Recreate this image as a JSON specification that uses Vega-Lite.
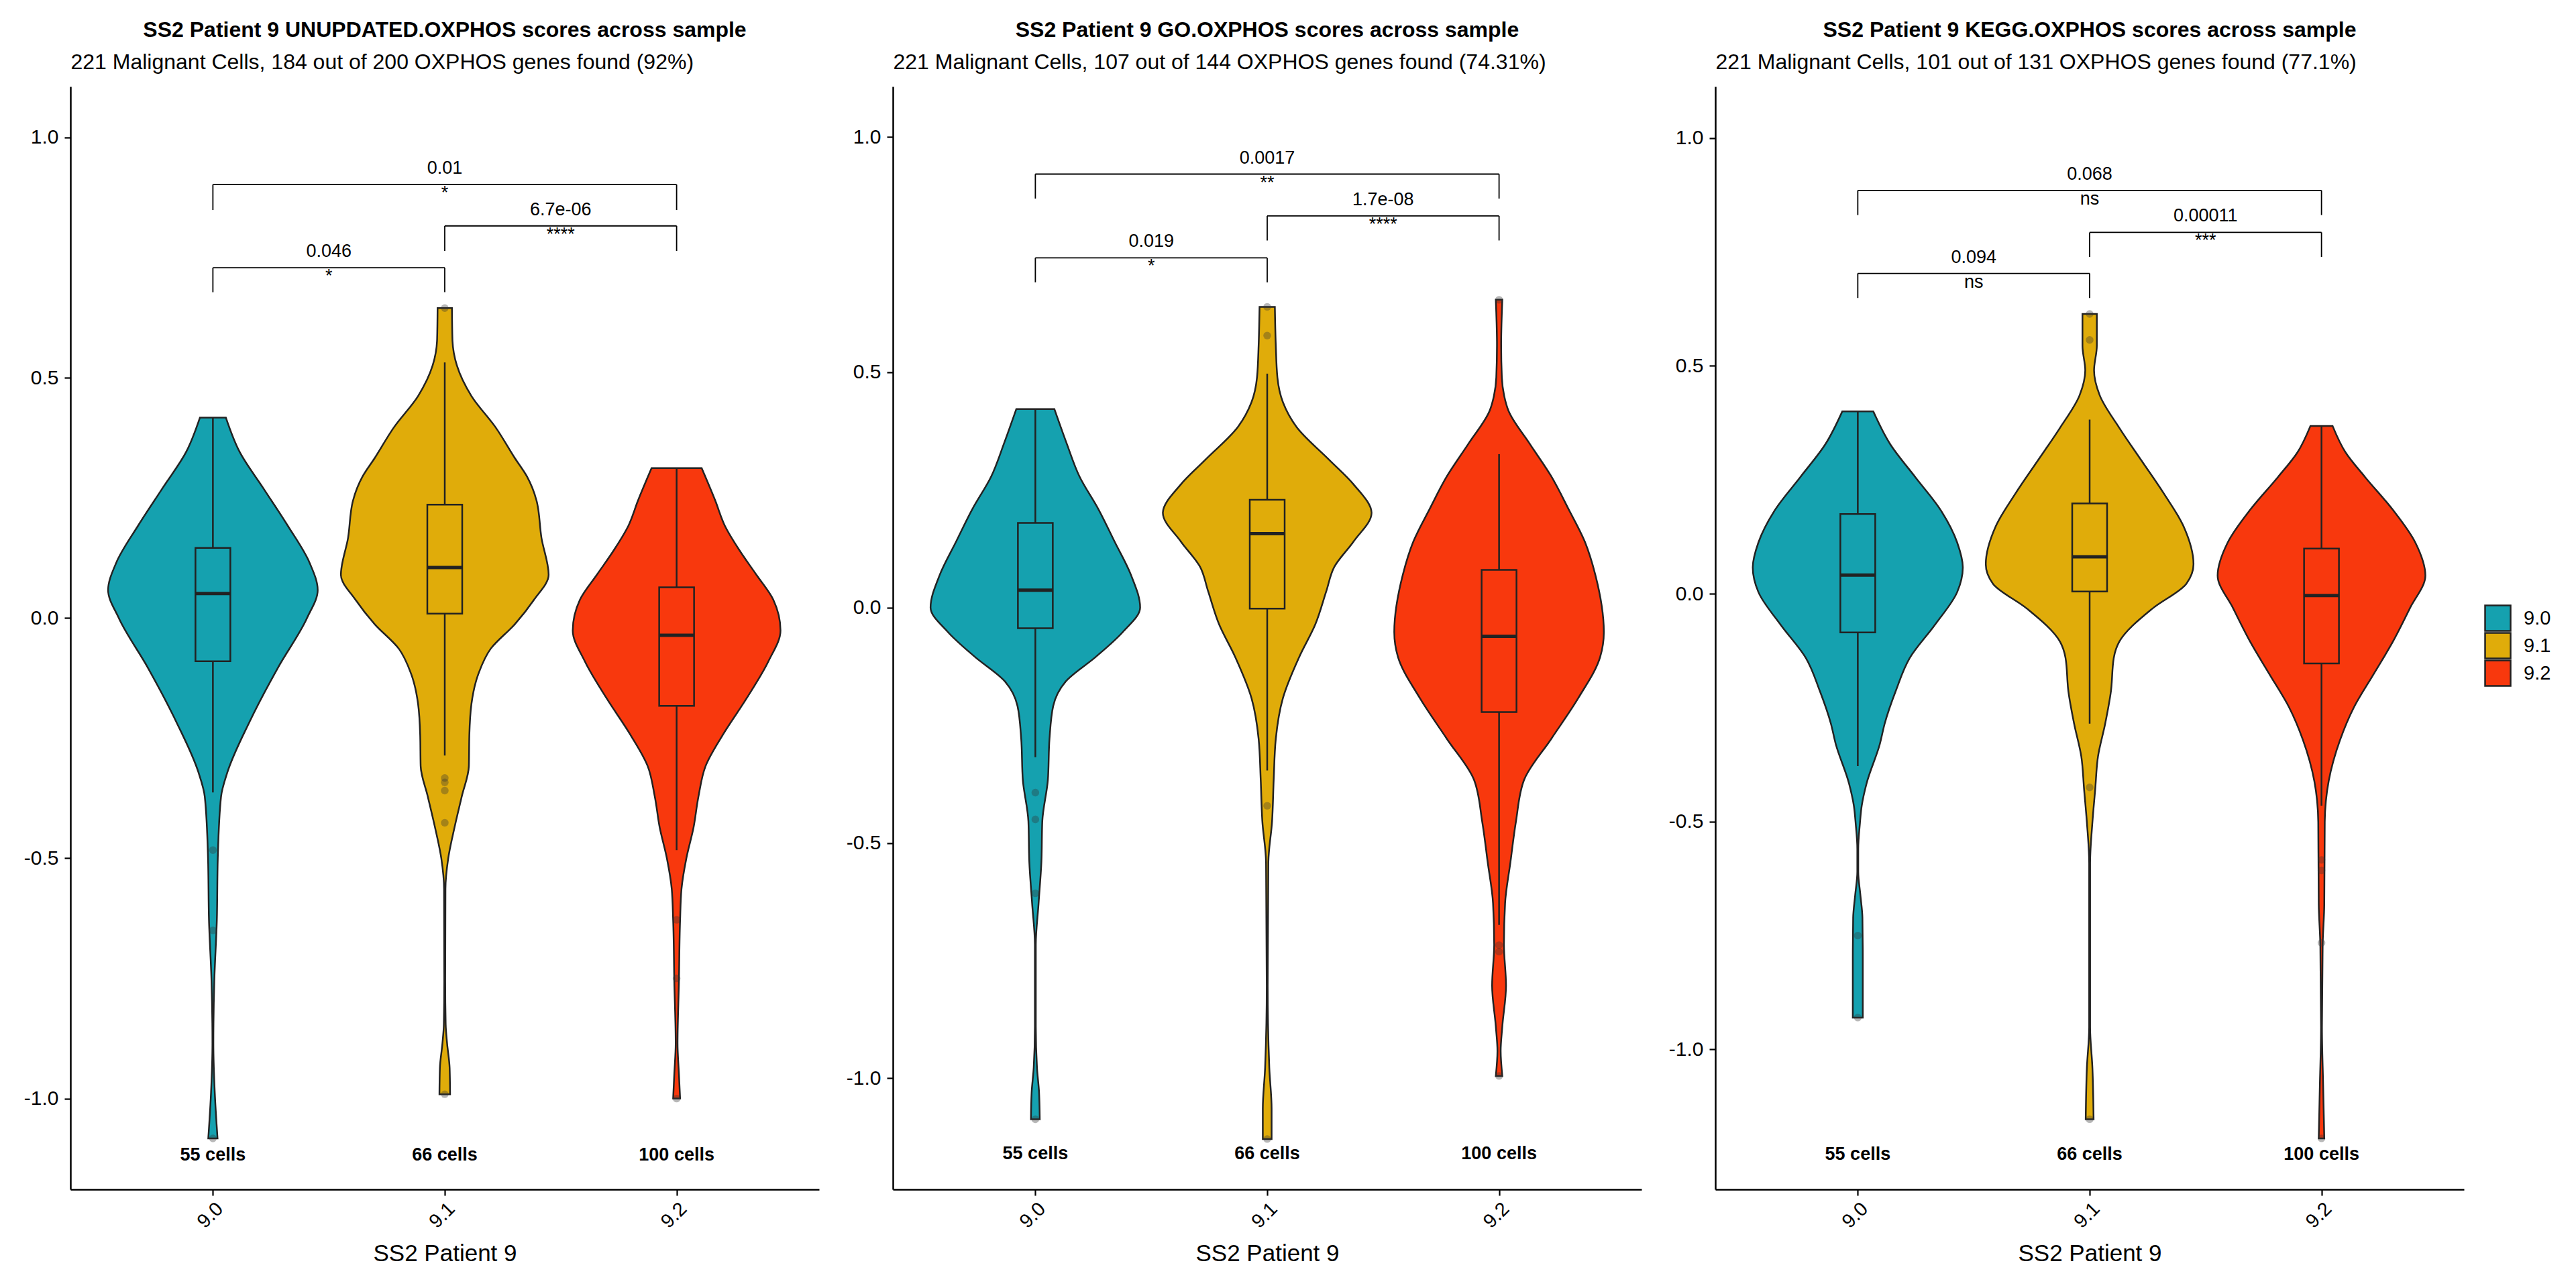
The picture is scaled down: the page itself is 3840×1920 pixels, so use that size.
{
  "$schema": "https://vega.github.io/schema/vega-lite/v6.json",
  "background": "white",
  "autosize": {"type": "pad"},
  "padding": {"left": 35, "top": 29, "right": 0, "bottom": 0},
  "bounds": "flush",
  "spacing": 110,
  "config": {
    "font": "Liberation Sans",
    "view": {"stroke": null},
    "axis": {"grid": false, "domainColor": "black", "tickColor": "black", "labelColor": "black", "titleColor": "black", "labelFont": "Liberation Sans", "titleFont": "Liberation Sans"},
    "title": {"font": "Liberation Sans", "fontSize": 32, "fontWeight": "bold", "color": "black", "anchor": "middle", "frame": "group", "baseline": "alphabetic", "offset": 14},
    "text": {"font": "Liberation Sans", "color": "black"}
  },
  "datasets": {
    "violin": [
      {"panel": "U", "sample": "9.0", "score": 0.417, "half": 0.056},
      {"panel": "U", "sample": "9.0", "score": 0.346, "half": 0.115},
      {"panel": "U", "sample": "9.0", "score": 0.269, "half": 0.219},
      {"panel": "U", "sample": "9.0", "score": 0.192, "half": 0.323},
      {"panel": "U", "sample": "9.0", "score": 0.115, "half": 0.417},
      {"panel": "U", "sample": "9.0", "score": 0.058, "half": 0.452},
      {"panel": "U", "sample": "9.0", "score": 0.0, "half": 0.406},
      {"panel": "U", "sample": "9.0", "score": -0.103, "half": 0.281},
      {"panel": "U", "sample": "9.0", "score": -0.218, "half": 0.156},
      {"panel": "U", "sample": "9.0", "score": -0.321, "half": 0.0625},
      {"panel": "U", "sample": "9.0", "score": -0.372, "half": 0.035},
      {"panel": "U", "sample": "9.0", "score": -0.5, "half": 0.021},
      {"panel": "U", "sample": "9.0", "score": -0.628, "half": 0.017},
      {"panel": "U", "sample": "9.0", "score": -0.756, "half": 0.006},
      {"panel": "U", "sample": "9.0", "score": -0.885, "half": 0.002},
      {"panel": "U", "sample": "9.0", "score": -0.987, "half": 0.008},
      {"panel": "U", "sample": "9.0", "score": -1.083, "half": 0.02},
      {"panel": "U", "sample": "9.1", "score": 0.645, "half": 0.031},
      {"panel": "U", "sample": "9.1", "score": 0.58, "half": 0.033},
      {"panel": "U", "sample": "9.1", "score": 0.526, "half": 0.052},
      {"panel": "U", "sample": "9.1", "score": 0.462, "half": 0.115},
      {"panel": "U", "sample": "9.1", "score": 0.397, "half": 0.219},
      {"panel": "U", "sample": "9.1", "score": 0.333, "half": 0.302},
      {"panel": "U", "sample": "9.1", "score": 0.295, "half": 0.354},
      {"panel": "U", "sample": "9.1", "score": 0.244, "half": 0.396},
      {"panel": "U", "sample": "9.1", "score": 0.167, "half": 0.417},
      {"panel": "U", "sample": "9.1", "score": 0.09, "half": 0.448},
      {"panel": "U", "sample": "9.1", "score": 0.038, "half": 0.385},
      {"panel": "U", "sample": "9.1", "score": -0.013, "half": 0.302},
      {"panel": "U", "sample": "9.1", "score": -0.064, "half": 0.198},
      {"panel": "U", "sample": "9.1", "score": -0.115, "half": 0.146},
      {"panel": "U", "sample": "9.1", "score": -0.179, "half": 0.115},
      {"panel": "U", "sample": "9.1", "score": -0.244, "half": 0.106},
      {"panel": "U", "sample": "9.1", "score": -0.308, "half": 0.104},
      {"panel": "U", "sample": "9.1", "score": -0.372, "half": 0.073},
      {"panel": "U", "sample": "9.1", "score": -0.436, "half": 0.042},
      {"panel": "U", "sample": "9.1", "score": -0.5, "half": 0.015},
      {"panel": "U", "sample": "9.1", "score": -0.564, "half": 0.003},
      {"panel": "U", "sample": "9.1", "score": -0.756, "half": 0.002},
      {"panel": "U", "sample": "9.1", "score": -0.846, "half": 0.004},
      {"panel": "U", "sample": "9.1", "score": -0.885, "half": 0.01},
      {"panel": "U", "sample": "9.1", "score": -0.936, "half": 0.021},
      {"panel": "U", "sample": "9.1", "score": -0.991, "half": 0.023},
      {"panel": "U", "sample": "9.2", "score": 0.312, "half": 0.108},
      {"panel": "U", "sample": "9.2", "score": 0.244, "half": 0.167},
      {"panel": "U", "sample": "9.2", "score": 0.192, "half": 0.208},
      {"panel": "U", "sample": "9.2", "score": 0.141, "half": 0.271},
      {"panel": "U", "sample": "9.2", "score": 0.09, "half": 0.344},
      {"panel": "U", "sample": "9.2", "score": 0.038, "half": 0.417},
      {"panel": "U", "sample": "9.2", "score": -0.026, "half": 0.448},
      {"panel": "U", "sample": "9.2", "score": -0.09, "half": 0.396},
      {"panel": "U", "sample": "9.2", "score": -0.167, "half": 0.302},
      {"panel": "U", "sample": "9.2", "score": -0.244, "half": 0.198},
      {"panel": "U", "sample": "9.2", "score": -0.308, "half": 0.125},
      {"panel": "U", "sample": "9.2", "score": -0.372, "half": 0.094},
      {"panel": "U", "sample": "9.2", "score": -0.436, "half": 0.073},
      {"panel": "U", "sample": "9.2", "score": -0.5, "half": 0.042},
      {"panel": "U", "sample": "9.2", "score": -0.564, "half": 0.021},
      {"panel": "U", "sample": "9.2", "score": -0.628, "half": 0.015},
      {"panel": "U", "sample": "9.2", "score": -0.756, "half": 0.01},
      {"panel": "U", "sample": "9.2", "score": -0.885, "half": 0.004},
      {"panel": "U", "sample": "9.2", "score": -0.949, "half": 0.01},
      {"panel": "U", "sample": "9.2", "score": -1.0, "half": 0.015},
      {"panel": "G", "sample": "9.0", "score": 0.422, "half": 0.082},
      {"panel": "G", "sample": "9.0", "score": 0.349, "half": 0.135},
      {"panel": "G", "sample": "9.0", "score": 0.279, "half": 0.19},
      {"panel": "G", "sample": "9.0", "score": 0.209, "half": 0.272},
      {"panel": "G", "sample": "9.0", "score": 0.14, "half": 0.342},
      {"panel": "G", "sample": "9.0", "score": 0.07, "half": 0.412},
      {"panel": "G", "sample": "9.0", "score": 0.0, "half": 0.452},
      {"panel": "G", "sample": "9.0", "score": -0.052, "half": 0.377},
      {"panel": "G", "sample": "9.0", "score": -0.105, "half": 0.26},
      {"panel": "G", "sample": "9.0", "score": -0.157, "half": 0.131},
      {"panel": "G", "sample": "9.0", "score": -0.209, "half": 0.077},
      {"panel": "G", "sample": "9.0", "score": -0.279, "half": 0.061},
      {"panel": "G", "sample": "9.0", "score": -0.366, "half": 0.054},
      {"panel": "G", "sample": "9.0", "score": -0.454, "half": 0.03},
      {"panel": "G", "sample": "9.0", "score": -0.541, "half": 0.026},
      {"panel": "G", "sample": "9.0", "score": -0.628, "half": 0.014},
      {"panel": "G", "sample": "9.0", "score": -0.716, "half": 0.002},
      {"panel": "G", "sample": "9.0", "score": -0.89, "half": 0.002},
      {"panel": "G", "sample": "9.0", "score": -0.977, "half": 0.007},
      {"panel": "G", "sample": "9.0", "score": -1.03, "half": 0.016},
      {"panel": "G", "sample": "9.0", "score": -1.087, "half": 0.019},
      {"panel": "G", "sample": "9.1", "score": 0.639, "half": 0.033},
      {"panel": "G", "sample": "9.1", "score": 0.558, "half": 0.037},
      {"panel": "G", "sample": "9.1", "score": 0.489, "half": 0.044},
      {"panel": "G", "sample": "9.1", "score": 0.436, "half": 0.068},
      {"panel": "G", "sample": "9.1", "score": 0.384, "half": 0.126},
      {"panel": "G", "sample": "9.1", "score": 0.314, "half": 0.267},
      {"panel": "G", "sample": "9.1", "score": 0.262, "half": 0.372},
      {"panel": "G", "sample": "9.1", "score": 0.201, "half": 0.45},
      {"panel": "G", "sample": "9.1", "score": 0.14, "half": 0.372},
      {"panel": "G", "sample": "9.1", "score": 0.087, "half": 0.29},
      {"panel": "G", "sample": "9.1", "score": 0.035, "half": 0.255},
      {"panel": "G", "sample": "9.1", "score": -0.035, "half": 0.208},
      {"panel": "G", "sample": "9.1", "score": -0.105, "half": 0.138},
      {"panel": "G", "sample": "9.1", "score": -0.192, "half": 0.068},
      {"panel": "G", "sample": "9.1", "score": -0.279, "half": 0.037},
      {"panel": "G", "sample": "9.1", "score": -0.366, "half": 0.028},
      {"panel": "G", "sample": "9.1", "score": -0.454, "half": 0.021},
      {"panel": "G", "sample": "9.1", "score": -0.541, "half": 0.005},
      {"panel": "G", "sample": "9.1", "score": -0.803, "half": 0.002},
      {"panel": "G", "sample": "9.1", "score": -0.977, "half": 0.009},
      {"panel": "G", "sample": "9.1", "score": -1.065, "half": 0.019},
      {"panel": "G", "sample": "9.1", "score": -1.129, "half": 0.019},
      {"panel": "G", "sample": "9.2", "score": 0.654, "half": 0.014},
      {"panel": "G", "sample": "9.2", "score": 0.558, "half": 0.009},
      {"panel": "G", "sample": "9.2", "score": 0.489, "half": 0.012},
      {"panel": "G", "sample": "9.2", "score": 0.45, "half": 0.022},
      {"panel": "G", "sample": "9.2", "score": 0.419, "half": 0.04},
      {"panel": "G", "sample": "9.2", "score": 0.349, "half": 0.131},
      {"panel": "G", "sample": "9.2", "score": 0.279, "half": 0.225},
      {"panel": "G", "sample": "9.2", "score": 0.209, "half": 0.3},
      {"panel": "G", "sample": "9.2", "score": 0.14, "half": 0.37},
      {"panel": "G", "sample": "9.2", "score": 0.07, "half": 0.415},
      {"panel": "G", "sample": "9.2", "score": -0.052, "half": 0.452},
      {"panel": "G", "sample": "9.2", "score": -0.105, "half": 0.436},
      {"panel": "G", "sample": "9.2", "score": -0.192, "half": 0.342},
      {"panel": "G", "sample": "9.2", "score": -0.279, "half": 0.225},
      {"panel": "G", "sample": "9.2", "score": -0.366, "half": 0.108},
      {"panel": "G", "sample": "9.2", "score": -0.454, "half": 0.073},
      {"panel": "G", "sample": "9.2", "score": -0.541, "half": 0.049},
      {"panel": "G", "sample": "9.2", "score": -0.628, "half": 0.026},
      {"panel": "G", "sample": "9.2", "score": -0.716, "half": 0.021},
      {"panel": "G", "sample": "9.2", "score": -0.803, "half": 0.03},
      {"panel": "G", "sample": "9.2", "score": -0.89, "half": 0.014},
      {"panel": "G", "sample": "9.2", "score": -0.942, "half": 0.007},
      {"panel": "G", "sample": "9.2", "score": -0.995, "half": 0.014},
      {"panel": "K", "sample": "9.0", "score": 0.4, "half": 0.067},
      {"panel": "K", "sample": "9.0", "score": 0.328, "half": 0.14},
      {"panel": "K", "sample": "9.0", "score": 0.256, "half": 0.248},
      {"panel": "K", "sample": "9.0", "score": 0.184, "half": 0.357},
      {"panel": "K", "sample": "9.0", "score": 0.112, "half": 0.429},
      {"panel": "K", "sample": "9.0", "score": 0.058, "half": 0.453},
      {"panel": "K", "sample": "9.0", "score": 0.004, "half": 0.429},
      {"panel": "K", "sample": "9.0", "score": -0.068, "half": 0.333},
      {"panel": "K", "sample": "9.0", "score": -0.141, "half": 0.224},
      {"panel": "K", "sample": "9.0", "score": -0.213, "half": 0.164},
      {"panel": "K", "sample": "9.0", "score": -0.285, "half": 0.116},
      {"panel": "K", "sample": "9.0", "score": -0.33, "half": 0.095},
      {"panel": "K", "sample": "9.0", "score": -0.416, "half": 0.038},
      {"panel": "K", "sample": "9.0", "score": -0.465, "half": 0.017},
      {"panel": "K", "sample": "9.0", "score": -0.505, "half": 0.009},
      {"panel": "K", "sample": "9.0", "score": -0.56, "half": 0.002},
      {"panel": "K", "sample": "9.0", "score": -0.61, "half": 0.002},
      {"panel": "K", "sample": "9.0", "score": -0.66, "half": 0.011},
      {"panel": "K", "sample": "9.0", "score": -0.711, "half": 0.02},
      {"panel": "K", "sample": "9.0", "score": -0.8, "half": 0.0215},
      {"panel": "K", "sample": "9.0", "score": -0.93, "half": 0.0215},
      {"panel": "K", "sample": "9.1", "score": 0.614, "half": 0.031},
      {"panel": "K", "sample": "9.1", "score": 0.544, "half": 0.031},
      {"panel": "K", "sample": "9.1", "score": 0.49, "half": 0.019},
      {"panel": "K", "sample": "9.1", "score": 0.436, "half": 0.043},
      {"panel": "K", "sample": "9.1", "score": 0.364, "half": 0.128},
      {"panel": "K", "sample": "9.1", "score": 0.292, "half": 0.224},
      {"panel": "K", "sample": "9.1", "score": 0.22, "half": 0.32},
      {"panel": "K", "sample": "9.1", "score": 0.148, "half": 0.405},
      {"panel": "K", "sample": "9.1", "score": 0.065, "half": 0.448},
      {"panel": "K", "sample": "9.1", "score": 0.022, "half": 0.417},
      {"panel": "K", "sample": "9.1", "score": -0.032, "half": 0.272},
      {"panel": "K", "sample": "9.1", "score": -0.105, "half": 0.128},
      {"panel": "K", "sample": "9.1", "score": -0.141, "half": 0.104},
      {"panel": "K", "sample": "9.1", "score": -0.213, "half": 0.092},
      {"panel": "K", "sample": "9.1", "score": -0.285, "half": 0.067},
      {"panel": "K", "sample": "9.1", "score": -0.357, "half": 0.036},
      {"panel": "K", "sample": "9.1", "score": -0.429, "half": 0.024},
      {"panel": "K", "sample": "9.1", "score": -0.501, "half": 0.012},
      {"panel": "K", "sample": "9.1", "score": -0.591, "half": 0.002},
      {"panel": "K", "sample": "9.1", "score": -0.951, "half": 0.002},
      {"panel": "K", "sample": "9.1", "score": -1.041, "half": 0.012},
      {"panel": "K", "sample": "9.1", "score": -1.153, "half": 0.017},
      {"panel": "K", "sample": "9.2", "score": 0.368, "half": 0.048},
      {"panel": "K", "sample": "9.2", "score": 0.31, "half": 0.104},
      {"panel": "K", "sample": "9.2", "score": 0.256, "half": 0.188},
      {"panel": "K", "sample": "9.2", "score": 0.184, "half": 0.308},
      {"panel": "K", "sample": "9.2", "score": 0.112, "half": 0.405},
      {"panel": "K", "sample": "9.2", "score": 0.04, "half": 0.448},
      {"panel": "K", "sample": "9.2", "score": -0.032, "half": 0.381},
      {"panel": "K", "sample": "9.2", "score": -0.105, "half": 0.308},
      {"panel": "K", "sample": "9.2", "score": -0.177, "half": 0.224},
      {"panel": "K", "sample": "9.2", "score": -0.249, "half": 0.14},
      {"panel": "K", "sample": "9.2", "score": -0.321, "half": 0.08},
      {"panel": "K", "sample": "9.2", "score": -0.411, "half": 0.031},
      {"panel": "K", "sample": "9.2", "score": -0.501, "half": 0.014},
      {"panel": "K", "sample": "9.2", "score": -0.681, "half": 0.012},
      {"panel": "K", "sample": "9.2", "score": -0.771, "half": 0.005},
      {"panel": "K", "sample": "9.2", "score": -0.951, "half": 0.002},
      {"panel": "K", "sample": "9.2", "score": -1.077, "half": 0.007},
      {"panel": "K", "sample": "9.2", "score": -1.195, "half": 0.012}
    ],
    "box": [
      {"panel": "U", "sample": "9.0", "lower": -0.363, "q1": -0.09, "median": 0.051, "q3": 0.146, "upper": 0.417},
      {"panel": "U", "sample": "9.1", "lower": -0.286, "q1": 0.009, "median": 0.105, "q3": 0.236, "upper": 0.532},
      {"panel": "U", "sample": "9.2", "lower": -0.483, "q1": -0.183, "median": -0.036, "q3": 0.064, "upper": 0.312},
      {"panel": "G", "sample": "9.0", "lower": -0.318, "q1": -0.044, "median": 0.037, "q3": 0.18, "upper": 0.422},
      {"panel": "G", "sample": "9.1", "lower": -0.346, "q1": -0.002, "median": 0.157, "q3": 0.229, "upper": 0.497},
      {"panel": "G", "sample": "9.2", "lower": -0.674, "q1": -0.222, "median": -0.061, "q3": 0.08, "upper": 0.326},
      {"panel": "K", "sample": "9.0", "lower": -0.378, "q1": -0.085, "median": 0.041, "q3": 0.175, "upper": 0.4},
      {"panel": "K", "sample": "9.1", "lower": -0.285, "q1": 0.005, "median": 0.081, "q3": 0.198, "upper": 0.382},
      {"panel": "K", "sample": "9.2", "lower": -0.465, "q1": -0.153, "median": -0.004, "q3": 0.099, "upper": 0.368}
    ],
    "outliers": [
      {"panel": "U", "sample": "9.0", "score": -0.483},
      {"panel": "U", "sample": "9.0", "score": -0.65},
      {"panel": "U", "sample": "9.0", "score": -1.083},
      {"panel": "U", "sample": "9.1", "score": 0.645},
      {"panel": "U", "sample": "9.1", "score": -0.333},
      {"panel": "U", "sample": "9.1", "score": -0.342},
      {"panel": "U", "sample": "9.1", "score": -0.359},
      {"panel": "U", "sample": "9.1", "score": -0.426},
      {"panel": "U", "sample": "9.1", "score": -0.991},
      {"panel": "U", "sample": "9.2", "score": -0.628},
      {"panel": "U", "sample": "9.2", "score": -0.75},
      {"panel": "U", "sample": "9.2", "score": -1.0},
      {"panel": "G", "sample": "9.0", "score": -0.393},
      {"panel": "G", "sample": "9.0", "score": -0.45},
      {"panel": "G", "sample": "9.0", "score": -0.607},
      {"panel": "G", "sample": "9.0", "score": -1.087},
      {"panel": "G", "sample": "9.1", "score": 0.639},
      {"panel": "G", "sample": "9.1", "score": 0.578},
      {"panel": "G", "sample": "9.1", "score": -0.421},
      {"panel": "G", "sample": "9.1", "score": -1.129},
      {"panel": "G", "sample": "9.2", "score": 0.654},
      {"panel": "G", "sample": "9.2", "score": -0.717},
      {"panel": "G", "sample": "9.2", "score": -0.731},
      {"panel": "G", "sample": "9.2", "score": -0.995},
      {"panel": "K", "sample": "9.0", "score": -0.75},
      {"panel": "K", "sample": "9.0", "score": -0.93},
      {"panel": "K", "sample": "9.1", "score": 0.614},
      {"panel": "K", "sample": "9.1", "score": 0.557},
      {"panel": "K", "sample": "9.1", "score": -0.425},
      {"panel": "K", "sample": "9.1", "score": -1.153},
      {"panel": "K", "sample": "9.2", "score": -0.584},
      {"panel": "K", "sample": "9.2", "score": -0.607},
      {"panel": "K", "sample": "9.2", "score": -0.766},
      {"panel": "K", "sample": "9.2", "score": -1.195}
    ],
    "brackets": [
      {"panel": "U", "from": 9.0, "to": 9.2, "y": 0.902, "ytip": 0.849, "p": "0.01", "sig": "*"},
      {"panel": "U", "from": 9.1, "to": 9.2, "y": 0.816, "ytip": 0.764, "p": "6.7e-06", "sig": "****"},
      {"panel": "U", "from": 9.0, "to": 9.1, "y": 0.729, "ytip": 0.678, "p": "0.046", "sig": "*"},
      {"panel": "G", "from": 9.0, "to": 9.2, "y": 0.921, "ytip": 0.869, "p": "0.0017", "sig": "**"},
      {"panel": "G", "from": 9.1, "to": 9.2, "y": 0.832, "ytip": 0.78, "p": "1.7e-08", "sig": "****"},
      {"panel": "G", "from": 9.0, "to": 9.1, "y": 0.743, "ytip": 0.691, "p": "0.019", "sig": "*"},
      {"panel": "K", "from": 9.0, "to": 9.2, "y": 0.885, "ytip": 0.831, "p": "0.068", "sig": "ns"},
      {"panel": "K", "from": 9.1, "to": 9.2, "y": 0.793, "ytip": 0.739, "p": "0.00011", "sig": "***"},
      {"panel": "K", "from": 9.0, "to": 9.1, "y": 0.703, "ytip": 0.649, "p": "0.094", "sig": "ns"}
    ],
    "counts": [
      {"panel": "U", "sample": "9.0", "y": -1.118, "label": "55 cells"},
      {"panel": "U", "sample": "9.1", "y": -1.118, "label": "66 cells"},
      {"panel": "U", "sample": "9.2", "y": -1.118, "label": "100 cells"},
      {"panel": "G", "sample": "9.0", "y": -1.161, "label": "55 cells"},
      {"panel": "G", "sample": "9.1", "y": -1.161, "label": "66 cells"},
      {"panel": "G", "sample": "9.2", "y": -1.161, "label": "100 cells"},
      {"panel": "K", "sample": "9.0", "y": -1.231, "label": "55 cells"},
      {"panel": "K", "sample": "9.1", "y": -1.231, "label": "66 cells"},
      {"panel": "K", "sample": "9.2", "y": -1.231, "label": "100 cells"}
    ]
  },
  "hconcat": [
    {
      "width": 1116,
      "height": 1644,
      "title": {"text": "SS2 Patient 9 UNUPDATED.OXPHOS scores across sample"},
      "resolve": {"axis": {"x": "independent"}},
      "layer": [
        {
          "data": {"name": "violin"},
          "transform": [
            {"filter": "datum.panel === 'U'"},
            {"calculate": "toNumber(datum.sample)", "as": "sv"},
            {"calculate": "datum.sv - datum.half * 0.1", "as": "lo"},
            {"calculate": "datum.sv + datum.half * 0.1", "as": "hi"}
          ],
          "mark": {"type": "area", "orient": "horizontal", "interpolate": "monotone", "stroke": "#222222", "strokeWidth": 2.5, "opacity": 1},
          "encoding": {
            "y": {"field": "score", "type": "quantitative", "scale": {"domain": [-1.189, 1.106], "nice": false, "zero": false},
              "axis": {"values": [-1, -0.5, 0, 0.5, 1], "labelExpr": "datum.value < 0 ? '-' + format(-datum.value, '.1f') : format(datum.value, '.1f')", "labelFontSize": 30, "labelPadding": 9, "tickSize": 9, "tickWidth": 2.2, "domainWidth": 2.5, "title": null}},
            "x": {"field": "lo", "type": "quantitative", "scale": {"domain": [8.94, 9.26], "nice": false, "zero": false},
              "axis": {"orient": "bottom", "values": [9, 9.1, 9.2], "format": ".1f", "labelAngle": -45, "labelAlign": "right", "labelBaseline": "top", "labelFontSize": 29, "labelPadding": 5, "tickSize": 9, "tickWidth": 2.2, "domainWidth": 2.5, "title": "SS2 Patient 9", "titleFontSize": 35, "titleFontWeight": "normal", "titleBaseline": "alphabetic", "titleAlign": "center", "titleX": 558, "titleY": 106}},
            "x2": {"field": "hi"},
            "fill": {"field": "sample", "type": "nominal", "scale": {"domain": ["9.0", "9.1", "9.2"], "range": ["#15A1AF", "#E0AC0A", "#F8380D"]},
              "legend": {"orient": "none", "legendX": 3598, "legendY": 772, "title": null, "symbolType": "square", "symbolSize": 1444, "symbolStrokeColor": "#333333", "symbolStrokeWidth": 2.5, "symbolOpacity": 1, "labelFontSize": 29, "labelOffset": 18, "clipHeight": 41, "rowPadding": 0, "padding": 0}}
          }
        },
        {
          "data": {"name": "box"},
          "transform": [{"filter": "datum.panel === 'U'"}, {"calculate": "toNumber(datum.sample)", "as": "sv"}],
          "mark": {"type": "rule", "stroke": "#222222", "strokeWidth": 2.5},
          "encoding": {
            "x": {"field": "sv", "type": "quantitative", "axis": null},
            "y": {"field": "lower", "type": "quantitative"},
            "y2": {"field": "upper"}
          }
        },
        {
          "data": {"name": "box"},
          "transform": [{"filter": "datum.panel === 'U'"}, {"calculate": "toNumber(datum.sample)", "as": "sv"}],
          "mark": {"type": "bar", "width": 52, "stroke": "#222222", "strokeWidth": 2.5, "opacity": 1},
          "encoding": {
            "x": {"field": "sv", "type": "quantitative", "axis": null},
            "y": {"field": "q1", "type": "quantitative"},
            "y2": {"field": "q3"},
            "fill": {"field": "sample", "type": "nominal"}
          }
        },
        {
          "data": {"name": "box"},
          "transform": [{"filter": "datum.panel === 'U'"}, {"calculate": "toNumber(datum.sample)", "as": "sv"}],
          "mark": {"type": "tick", "orient": "horizontal", "size": 52, "thickness": 5, "color": "#222222", "opacity": 1},
          "encoding": {
            "x": {"field": "sv", "type": "quantitative", "axis": null},
            "y": {"field": "median", "type": "quantitative"}
          }
        },
        {
          "data": {"name": "outliers"},
          "transform": [{"filter": "datum.panel === 'U'"}, {"calculate": "toNumber(datum.sample)", "as": "sv"}],
          "mark": {"type": "circle", "size": 130, "color": "#333333", "opacity": 0.35},
          "encoding": {
            "x": {"field": "sv", "type": "quantitative", "axis": null},
            "y": {"field": "score", "type": "quantitative"}
          }
        },
        {
          "data": {"name": "brackets"},
          "transform": [{"filter": "datum.panel === 'U'"}],
          "mark": {"type": "rule", "color": "black", "strokeWidth": 1.8},
          "encoding": {
            "x": {"field": "from", "type": "quantitative", "axis": null},
            "x2": {"field": "to"},
            "y": {"field": "y", "type": "quantitative"}
          }
        },
        {
          "data": {"name": "brackets"},
          "transform": [{"filter": "datum.panel === 'U'"}],
          "mark": {"type": "rule", "color": "black", "strokeWidth": 1.8},
          "encoding": {
            "x": {"field": "from", "type": "quantitative", "axis": null},
            "y": {"field": "ytip", "type": "quantitative"},
            "y2": {"field": "y"}
          }
        },
        {
          "data": {"name": "brackets"},
          "transform": [{"filter": "datum.panel === 'U'"}],
          "mark": {"type": "rule", "color": "black", "strokeWidth": 1.8},
          "encoding": {
            "x": {"field": "to", "type": "quantitative", "axis": null},
            "y": {"field": "ytip", "type": "quantitative"},
            "y2": {"field": "y"}
          }
        },
        {
          "data": {"name": "brackets"},
          "transform": [{"filter": "datum.panel === 'U'"}, {"calculate": "(datum.from + datum.to) / 2", "as": "mid"}],
          "mark": {"type": "text", "fontSize": 27, "baseline": "alphabetic", "dy": -16},
          "encoding": {
            "x": {"field": "mid", "type": "quantitative", "axis": null},
            "y": {"field": "y", "type": "quantitative"},
            "text": {"field": "p"}
          }
        },
        {
          "data": {"name": "brackets"},
          "transform": [{"filter": "datum.panel === 'U'"}, {"calculate": "(datum.from + datum.to) / 2", "as": "mid"}],
          "mark": {"type": "text", "fontSize": 27, "baseline": "alphabetic", "dy": 21},
          "encoding": {
            "x": {"field": "mid", "type": "quantitative", "axis": null},
            "y": {"field": "y", "type": "quantitative"},
            "text": {"field": "sig"}
          }
        },
        {
          "data": {"name": "counts"},
          "transform": [{"filter": "datum.panel === 'U'"}, {"calculate": "toNumber(datum.sample)", "as": "sv"}],
          "mark": {"type": "text", "fontSize": 27, "fontWeight": "bold", "baseline": "middle"},
          "encoding": {
            "x": {"field": "sv", "type": "quantitative",
              "axis": {"orient": "top", "domain": false, "ticks": false, "labels": false, "grid": false, "title": "221 Malignant Cells, 184 out of 200 OXPHOS genes found (92%)", "titleFontSize": 32, "titleFontWeight": "normal", "titleX": 0, "titleY": -27, "titleAlign": "left", "titleBaseline": "alphabetic"}},
            "y": {"field": "y", "type": "quantitative"},
            "text": {"field": "label"}
          }
        }
      ]
    },
    {
      "width": 1116,
      "height": 1644,
      "title": {"text": "SS2 Patient 9 GO.OXPHOS scores across sample"},
      "resolve": {"axis": {"x": "independent"}},
      "layer": [
        {
          "data": {"name": "violin"},
          "transform": [
            {"filter": "datum.panel === 'G'"},
            {"calculate": "toNumber(datum.sample)", "as": "sv"},
            {"calculate": "datum.sv - datum.half * 0.1", "as": "lo"},
            {"calculate": "datum.sv + datum.half * 0.1", "as": "hi"}
          ],
          "mark": {"type": "area", "orient": "horizontal", "interpolate": "monotone", "stroke": "#222222", "strokeWidth": 2.5, "opacity": 1},
          "encoding": {
            "y": {"field": "score", "type": "quantitative", "scale": {"domain": [-1.236, 1.107], "nice": false, "zero": false},
              "axis": {"values": [-1, -0.5, 0, 0.5, 1], "labelExpr": "datum.value < 0 ? '-' + format(-datum.value, '.1f') : format(datum.value, '.1f')", "labelFontSize": 30, "labelPadding": 9, "tickSize": 9, "tickWidth": 2.2, "domainWidth": 2.5, "title": null}},
            "x": {"field": "lo", "type": "quantitative", "scale": {"domain": [8.94, 9.26], "nice": false, "zero": false},
              "axis": {"orient": "bottom", "values": [9, 9.1, 9.2], "format": ".1f", "labelAngle": -45, "labelAlign": "right", "labelBaseline": "top", "labelFontSize": 29, "labelPadding": 5, "tickSize": 9, "tickWidth": 2.2, "domainWidth": 2.5, "title": "SS2 Patient 9", "titleFontSize": 35, "titleFontWeight": "normal", "titleBaseline": "alphabetic", "titleAlign": "center", "titleX": 558, "titleY": 106}},
            "x2": {"field": "hi"},
            "fill": {"field": "sample", "type": "nominal"}
          }
        },
        {
          "data": {"name": "box"},
          "transform": [{"filter": "datum.panel === 'G'"}, {"calculate": "toNumber(datum.sample)", "as": "sv"}],
          "mark": {"type": "rule", "stroke": "#222222", "strokeWidth": 2.5},
          "encoding": {
            "x": {"field": "sv", "type": "quantitative", "axis": null},
            "y": {"field": "lower", "type": "quantitative"},
            "y2": {"field": "upper"}
          }
        },
        {
          "data": {"name": "box"},
          "transform": [{"filter": "datum.panel === 'G'"}, {"calculate": "toNumber(datum.sample)", "as": "sv"}],
          "mark": {"type": "bar", "width": 52, "stroke": "#222222", "strokeWidth": 2.5, "opacity": 1},
          "encoding": {
            "x": {"field": "sv", "type": "quantitative", "axis": null},
            "y": {"field": "q1", "type": "quantitative"},
            "y2": {"field": "q3"},
            "fill": {"field": "sample", "type": "nominal"}
          }
        },
        {
          "data": {"name": "box"},
          "transform": [{"filter": "datum.panel === 'G'"}, {"calculate": "toNumber(datum.sample)", "as": "sv"}],
          "mark": {"type": "tick", "orient": "horizontal", "size": 52, "thickness": 5, "color": "#222222", "opacity": 1},
          "encoding": {
            "x": {"field": "sv", "type": "quantitative", "axis": null},
            "y": {"field": "median", "type": "quantitative"}
          }
        },
        {
          "data": {"name": "outliers"},
          "transform": [{"filter": "datum.panel === 'G'"}, {"calculate": "toNumber(datum.sample)", "as": "sv"}],
          "mark": {"type": "circle", "size": 130, "color": "#333333", "opacity": 0.35},
          "encoding": {
            "x": {"field": "sv", "type": "quantitative", "axis": null},
            "y": {"field": "score", "type": "quantitative"}
          }
        },
        {
          "data": {"name": "brackets"},
          "transform": [{"filter": "datum.panel === 'G'"}],
          "mark": {"type": "rule", "color": "black", "strokeWidth": 1.8},
          "encoding": {
            "x": {"field": "from", "type": "quantitative", "axis": null},
            "x2": {"field": "to"},
            "y": {"field": "y", "type": "quantitative"}
          }
        },
        {
          "data": {"name": "brackets"},
          "transform": [{"filter": "datum.panel === 'G'"}],
          "mark": {"type": "rule", "color": "black", "strokeWidth": 1.8},
          "encoding": {
            "x": {"field": "from", "type": "quantitative", "axis": null},
            "y": {"field": "ytip", "type": "quantitative"},
            "y2": {"field": "y"}
          }
        },
        {
          "data": {"name": "brackets"},
          "transform": [{"filter": "datum.panel === 'G'"}],
          "mark": {"type": "rule", "color": "black", "strokeWidth": 1.8},
          "encoding": {
            "x": {"field": "to", "type": "quantitative", "axis": null},
            "y": {"field": "ytip", "type": "quantitative"},
            "y2": {"field": "y"}
          }
        },
        {
          "data": {"name": "brackets"},
          "transform": [{"filter": "datum.panel === 'G'"}, {"calculate": "(datum.from + datum.to) / 2", "as": "mid"}],
          "mark": {"type": "text", "fontSize": 27, "baseline": "alphabetic", "dy": -16},
          "encoding": {
            "x": {"field": "mid", "type": "quantitative", "axis": null},
            "y": {"field": "y", "type": "quantitative"},
            "text": {"field": "p"}
          }
        },
        {
          "data": {"name": "brackets"},
          "transform": [{"filter": "datum.panel === 'G'"}, {"calculate": "(datum.from + datum.to) / 2", "as": "mid"}],
          "mark": {"type": "text", "fontSize": 27, "baseline": "alphabetic", "dy": 21},
          "encoding": {
            "x": {"field": "mid", "type": "quantitative", "axis": null},
            "y": {"field": "y", "type": "quantitative"},
            "text": {"field": "sig"}
          }
        },
        {
          "data": {"name": "counts"},
          "transform": [{"filter": "datum.panel === 'G'"}, {"calculate": "toNumber(datum.sample)", "as": "sv"}],
          "mark": {"type": "text", "fontSize": 27, "fontWeight": "bold", "baseline": "middle"},
          "encoding": {
            "x": {"field": "sv", "type": "quantitative",
              "axis": {"orient": "top", "domain": false, "ticks": false, "labels": false, "grid": false, "title": "221 Malignant Cells, 107 out of 144 OXPHOS genes found (74.31%)", "titleFontSize": 32, "titleFontWeight": "normal", "titleX": 0, "titleY": -27, "titleAlign": "left", "titleBaseline": "alphabetic"}},
            "y": {"field": "y", "type": "quantitative"},
            "text": {"field": "label"}
          }
        }
      ]
    },
    {
      "width": 1116,
      "height": 1644,
      "title": {"text": "SS2 Patient 9 KEGG.OXPHOS scores across sample"},
      "resolve": {"axis": {"x": "independent"}},
      "layer": [
        {
          "data": {"name": "violin"},
          "transform": [
            {"filter": "datum.panel === 'K'"},
            {"calculate": "toNumber(datum.sample)", "as": "sv"},
            {"calculate": "datum.sv - datum.half * 0.1", "as": "lo"},
            {"calculate": "datum.sv + datum.half * 0.1", "as": "hi"}
          ],
          "mark": {"type": "area", "orient": "horizontal", "interpolate": "monotone", "stroke": "#222222", "strokeWidth": 2.5, "opacity": 1},
          "encoding": {
            "y": {"field": "score", "type": "quantitative", "scale": {"domain": [-1.307, 1.113], "nice": false, "zero": false},
              "axis": {"values": [-1, -0.5, 0, 0.5, 1], "labelExpr": "datum.value < 0 ? '-' + format(-datum.value, '.1f') : format(datum.value, '.1f')", "labelFontSize": 30, "labelPadding": 9, "tickSize": 9, "tickWidth": 2.2, "domainWidth": 2.5, "title": null}},
            "x": {"field": "lo", "type": "quantitative", "scale": {"domain": [8.94, 9.26], "nice": false, "zero": false},
              "axis": {"orient": "bottom", "values": [9, 9.1, 9.2], "format": ".1f", "labelAngle": -45, "labelAlign": "right", "labelBaseline": "top", "labelFontSize": 29, "labelPadding": 5, "tickSize": 9, "tickWidth": 2.2, "domainWidth": 2.5, "title": "SS2 Patient 9", "titleFontSize": 35, "titleFontWeight": "normal", "titleBaseline": "alphabetic", "titleAlign": "center", "titleX": 558, "titleY": 106}},
            "x2": {"field": "hi"},
            "fill": {"field": "sample", "type": "nominal"}
          }
        },
        {
          "data": {"name": "box"},
          "transform": [{"filter": "datum.panel === 'K'"}, {"calculate": "toNumber(datum.sample)", "as": "sv"}],
          "mark": {"type": "rule", "stroke": "#222222", "strokeWidth": 2.5},
          "encoding": {
            "x": {"field": "sv", "type": "quantitative", "axis": null},
            "y": {"field": "lower", "type": "quantitative"},
            "y2": {"field": "upper"}
          }
        },
        {
          "data": {"name": "box"},
          "transform": [{"filter": "datum.panel === 'K'"}, {"calculate": "toNumber(datum.sample)", "as": "sv"}],
          "mark": {"type": "bar", "width": 52, "stroke": "#222222", "strokeWidth": 2.5, "opacity": 1},
          "encoding": {
            "x": {"field": "sv", "type": "quantitative", "axis": null},
            "y": {"field": "q1", "type": "quantitative"},
            "y2": {"field": "q3"},
            "fill": {"field": "sample", "type": "nominal"}
          }
        },
        {
          "data": {"name": "box"},
          "transform": [{"filter": "datum.panel === 'K'"}, {"calculate": "toNumber(datum.sample)", "as": "sv"}],
          "mark": {"type": "tick", "orient": "horizontal", "size": 52, "thickness": 5, "color": "#222222", "opacity": 1},
          "encoding": {
            "x": {"field": "sv", "type": "quantitative", "axis": null},
            "y": {"field": "median", "type": "quantitative"}
          }
        },
        {
          "data": {"name": "outliers"},
          "transform": [{"filter": "datum.panel === 'K'"}, {"calculate": "toNumber(datum.sample)", "as": "sv"}],
          "mark": {"type": "circle", "size": 130, "color": "#333333", "opacity": 0.35},
          "encoding": {
            "x": {"field": "sv", "type": "quantitative", "axis": null},
            "y": {"field": "score", "type": "quantitative"}
          }
        },
        {
          "data": {"name": "brackets"},
          "transform": [{"filter": "datum.panel === 'K'"}],
          "mark": {"type": "rule", "color": "black", "strokeWidth": 1.8},
          "encoding": {
            "x": {"field": "from", "type": "quantitative", "axis": null},
            "x2": {"field": "to"},
            "y": {"field": "y", "type": "quantitative"}
          }
        },
        {
          "data": {"name": "brackets"},
          "transform": [{"filter": "datum.panel === 'K'"}],
          "mark": {"type": "rule", "color": "black", "strokeWidth": 1.8},
          "encoding": {
            "x": {"field": "from", "type": "quantitative", "axis": null},
            "y": {"field": "ytip", "type": "quantitative"},
            "y2": {"field": "y"}
          }
        },
        {
          "data": {"name": "brackets"},
          "transform": [{"filter": "datum.panel === 'K'"}],
          "mark": {"type": "rule", "color": "black", "strokeWidth": 1.8},
          "encoding": {
            "x": {"field": "to", "type": "quantitative", "axis": null},
            "y": {"field": "ytip", "type": "quantitative"},
            "y2": {"field": "y"}
          }
        },
        {
          "data": {"name": "brackets"},
          "transform": [{"filter": "datum.panel === 'K'"}, {"calculate": "(datum.from + datum.to) / 2", "as": "mid"}],
          "mark": {"type": "text", "fontSize": 27, "baseline": "alphabetic", "dy": -16},
          "encoding": {
            "x": {"field": "mid", "type": "quantitative", "axis": null},
            "y": {"field": "y", "type": "quantitative"},
            "text": {"field": "p"}
          }
        },
        {
          "data": {"name": "brackets"},
          "transform": [{"filter": "datum.panel === 'K'"}, {"calculate": "(datum.from + datum.to) / 2", "as": "mid"}],
          "mark": {"type": "text", "fontSize": 27, "baseline": "alphabetic", "dy": 21},
          "encoding": {
            "x": {"field": "mid", "type": "quantitative", "axis": null},
            "y": {"field": "y", "type": "quantitative"},
            "text": {"field": "sig"}
          }
        },
        {
          "data": {"name": "counts"},
          "transform": [{"filter": "datum.panel === 'K'"}, {"calculate": "toNumber(datum.sample)", "as": "sv"}],
          "mark": {"type": "text", "fontSize": 27, "fontWeight": "bold", "baseline": "middle"},
          "encoding": {
            "x": {"field": "sv", "type": "quantitative",
              "axis": {"orient": "top", "domain": false, "ticks": false, "labels": false, "grid": false, "title": "221 Malignant Cells, 101 out of 131 OXPHOS genes found (77.1%)", "titleFontSize": 32, "titleFontWeight": "normal", "titleX": 0, "titleY": -27, "titleAlign": "left", "titleBaseline": "alphabetic"}},
            "y": {"field": "y", "type": "quantitative"},
            "text": {"field": "label"}
          }
        }
      ]
    }
  ]
}
